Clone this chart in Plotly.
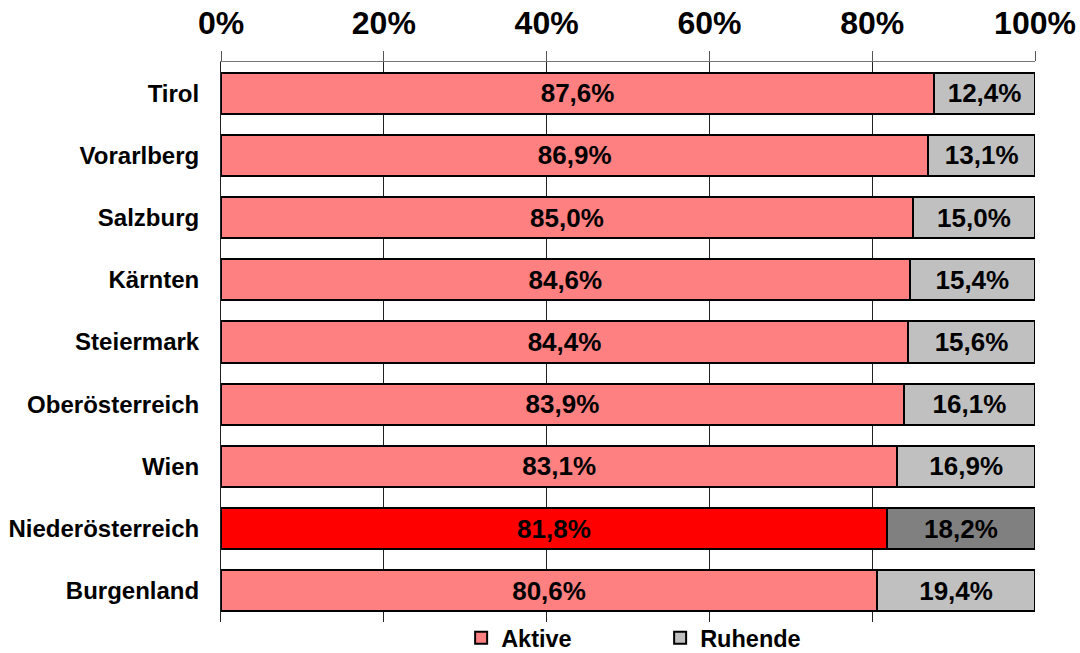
import plotly.graph_objects as go

regions = ["Tirol", "Vorarlberg", "Salzburg", "Kärnten", "Steiermark",
           "Oberösterreich", "Wien", "Niederösterreich", "Burgenland"]
aktive = [87.6, 86.9, 85.0, 84.6, 84.4, 83.9, 83.1, 81.8, 80.6]
ruhende = [12.4, 13.1, 15.0, 15.4, 15.6, 16.1, 16.9, 18.2, 19.4]
highlight = "Niederösterreich"
x_ticks = [0, 20, 40, 60, 80, 100]

def fmt(v):
    return f"{v:.1f}%".replace(".", ",")

akt_colors = ["#FF0000" if r == highlight else "#FF8080" for r in regions]
ruh_colors = ["#808080" if r == highlight else "#C0C0C0" for r in regions]

FONT = "Liberation Sans, Arial"
label_font = dict(family=FONT, size=26, color="black", weight="bold")

fig = go.Figure()
fig.add_trace(go.Bar(
    y=regions, x=aktive, orientation="h", name="Aktive",
    marker=dict(color=akt_colors, line=dict(color="black", width=2)),
    text=[fmt(v) for v in aktive], textposition="inside",
    insidetextanchor="middle", textangle=0, constraintext="none",
    textfont=label_font,
))
fig.add_trace(go.Bar(
    y=regions, x=ruhende, orientation="h", name="Ruhende",
    marker=dict(color=ruh_colors, line=dict(color="black", width=2)),
    text=[fmt(v) for v in ruhende], textposition="inside",
    insidetextanchor="middle", textangle=0, constraintext="none",
    textfont=label_font,
))

fig.update_layout(
    barmode="stack", bargap=0.34,
    width=1080, height=653,
    paper_bgcolor="white", plot_bgcolor="white",
    margin=dict(l=221, r=45, t=62, b=31, autoexpand=False),
    font=dict(family=FONT, color="black"),
    legend=dict(orientation="h", x=0.295, xanchor="left", y=-16 / 560, yanchor="middle",
                font=dict(size=23.5, weight="bold"), itemwidth=30,
                entrywidth=154, entrywidthmode="pixels",
                traceorder="normal", bgcolor="rgba(0,0,0,0)"),
    xaxis=dict(side="top", range=[0, 100], tickvals=x_ticks,
               ticktext=[f"{t}%" for t in x_ticks],
               ticks="outside", ticklen=10, tickcolor="#555", tickwidth=1,
               showline=True, linecolor="#777", linewidth=1,
               showgrid=True, gridcolor="#222", gridwidth=1,
               tickfont=dict(size=32, weight="bold"), zeroline=False,
               ticklabelstandoff=4, automargin=False),
    yaxis=dict(autorange="reversed", showline=True, linecolor="#222", linewidth=1,
               ticks="", ticklabelstandoff=16, automargin=False,
               tickfont=dict(size=24, weight="bold")),
)

# remove the default 8px page margin so the figure fills the window exactly
fig.write_html("out.html", config={"displayModeBar": False},
               post_script="document.body.style.margin='0';")
